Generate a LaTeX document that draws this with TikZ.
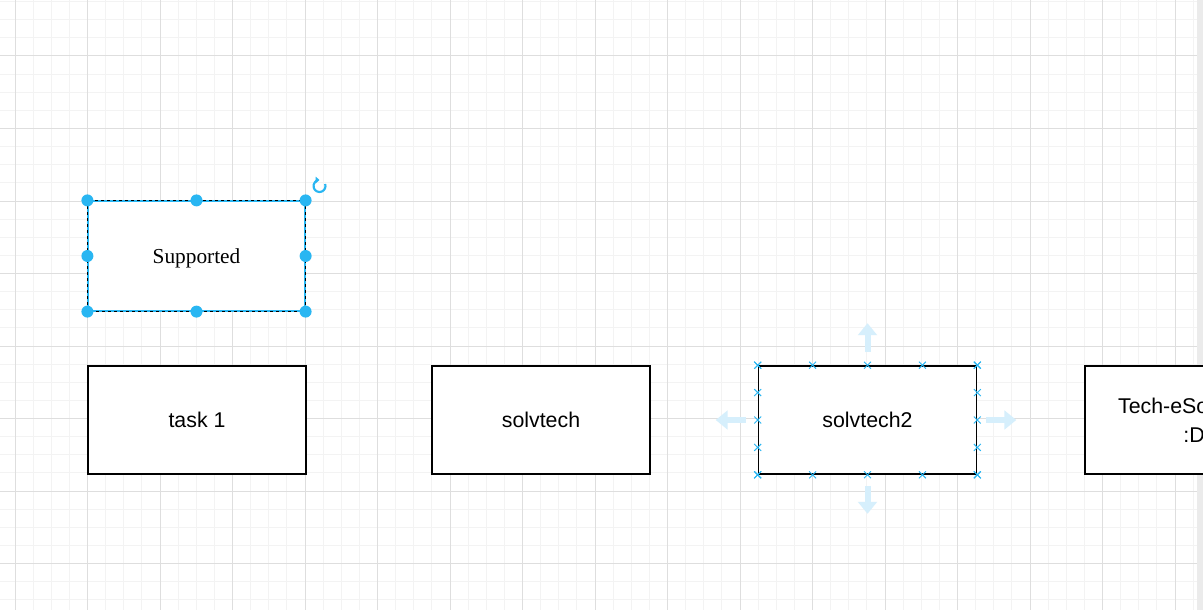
\documentclass[tikz,border=0pt]{standalone}
\usepackage{fontspec}
\setmainfont{Liberation Sans}
\newfontfamily\labelserif{Liberation Serif}
\usetikzlibrary{arrows.meta,calc,shapes.misc}

\definecolor{gridminor}{RGB}{243,243,243}
\definecolor{gridmajor}{RGB}{222,222,222}
\definecolor{selblue}{RGB}{41,182,242}
\definecolor{hintblue}{RGB}{214,239,252}
\definecolor{scrollgray}{RGB}{235,235,235}

\tikzset{
  taskbox/.style={draw=black, line width=1.2pt, fill=white, minimum width=163.5pt,
    minimum height=81pt, inner sep=0pt, align=center,
    font=\fontsize{16}{21.75}\selectfont},
  handle/.style={circle, fill=selblue, inner sep=0pt, minimum size=9pt},
  cpoint/.style={cross out, draw=selblue, line width=0.7pt, inner sep=0pt, minimum size=4.5pt},
  hintarrow/.style={hintblue, line width=4.5pt, -{Triangle[length=9pt,width=14pt]}}
}

\begin{document}
\begin{tikzpicture}[x=0.75pt, y=-0.75pt]
\useasboundingbox[fill=white] (0,0) rectangle (1203,610);
\clip (0,0) rectangle (1203,610);

% background grid
\foreach \i in {0,...,67} {
  \draw[gridminor, line width=0.75pt] ({-3.125+\i*18.125},0) -- ++(0,610); };
\foreach \j in {0,...,33} {
  \draw[gridminor, line width=0.75pt] (0,{1.625+\j*18.125}) -- ++(1203,0); };
\foreach \k in {0,...,16} {
  \draw[gridmajor, line width=0.75pt] ({15+\k*72.5},0) -- ++(0,610); };
\foreach \k in {0,...,7} {
  \draw[gridmajor, line width=0.75pt] (0,{56+\k*72.5}) -- ++(1203,0); };

% scroll bar
\fill[scrollgray] (1197,0) rectangle (1203,610);

% selected box
\node[taskbox, draw=selblue, line width=0.9pt, minimum width=162.75pt, minimum height=82.5pt,
      font=\labelserif\fontsize{16}{21.75}\selectfont, text depth=2pt, text height=13pt,
      ] (sup) at (196.5,256) {Supported};
\draw[black, line width=0.9pt, dash pattern=on 2.25pt off 2.25pt]
  (sup.north west) rectangle (sup.south east);
\foreach \a in {north west, north, north east, west, east, south west, south, south east}
  \node[handle] at (sup.\a) {};
\draw[selblue, line width=1.6pt, -{Triangle[length=3pt,width=5pt]}]
  (319.5,186) ++(20:4.5pt) arc[start angle=20, end angle=-270, radius=4.5pt];

% row of tasks
\node[taskbox] (task1) at (197,420) {task 1};
\node[taskbox] (solv) at (541,420) {solvtech};
\node[taskbox] (solv2) at (867.5,420) {solvtech2};
\node[taskbox] (tech) at (1194,420) {Tech-eSolutions\\:D};

% connection points of solvtech2
\foreach \f in {0,0.25,0.5,0.75,1} {
  \node[cpoint] at ($(solv2.north west)!\f!(solv2.north east)$) {};
  \node[cpoint] at ($(solv2.south west)!\f!(solv2.south east)$) {};
  \node[cpoint] at ($(solv2.north west)!\f!(solv2.south west)$) {};
  \node[cpoint] at ($(solv2.north east)!\f!(solv2.south east)$) {};
};

% hover arrows
\draw[hintarrow] ($(solv2.north)+(0,-13)$) -- ($(solv2.north)+(0,-42)$);
\draw[hintarrow] ($(solv2.south)+(0,11)$) -- ($(solv2.south)+(0,39)$);
\draw[hintarrow] ($(solv2.west)+(-12,0)$) -- ($(solv2.west)+(-42,0)$);
\draw[hintarrow] ($(solv2.east)+(9,0)$) -- ($(solv2.east)+(39,0)$);
\end{tikzpicture}
\end{document}
